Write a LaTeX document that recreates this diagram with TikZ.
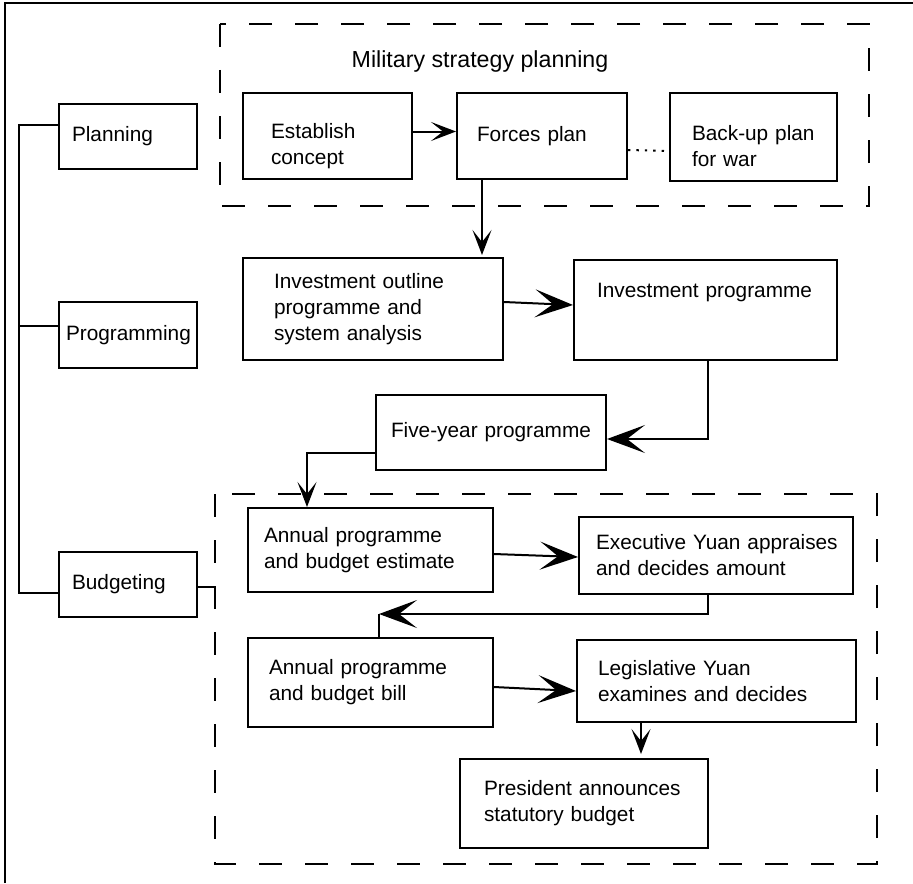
\documentclass[tikz,border=0pt]{standalone}
\usepackage{fontspec}
\setmainfont{Liberation Sans}
\usetikzlibrary{arrows.meta}
\hyphenpenalty=10000

\begin{document}
\begin{tikzpicture}[x=0.5pt, y=-0.5pt,
  box/.style={draw, line width=1pt, align=left, inner sep=0pt, font=\fontsize{10.4}{13}\selectfont},
  link/.style={line width=1pt},
  bigarrow/.style={link, -{Stealth[length=19pt, width=14pt, inset=9pt]}},
  smallarrow/.style={link, -{Stealth[length=12.5pt, width=9.5pt, inset=6pt]}},
  dashbox/.style={line width=1.4pt, dash pattern=on 11.5pt off 11.5pt}]
\useasboundingbox (0,0) rectangle (913,883);

% frame
\draw[line width=1pt] (5,883) -- (5,3) -- (913,3);

% dashed groups
\draw[dashbox] (220,24) rectangle (869,206);
\draw[dashbox] (215,494) rectangle (877,864);
\node[font=\fontsize{11.6}{14}\selectfont] (mtitle) at (480,62) {Military strategy planning};

% phases
\node[box, minimum width=69pt, minimum height=32.5pt, text width=56pt] (plan) at (128,136.5) {Planning};
\node[box, minimum width=69pt, minimum height=33pt, text width=62pt] (prog) at (128,335) {Programming};
\node[box, minimum width=69pt, minimum height=32.5pt, text width=56pt] (budg) at (128,584.5) {Budgeting};

% planning
\node[box, minimum width=84.5pt, minimum height=43pt, text width=56.5pt] (estab) at (327.5,136) {\rule{0pt}{18pt}Establish\\concept};
\node[box, minimum width=85pt, minimum height=43pt, text width=65pt] (forces) at (542,136) {Forces~plan};
\node[box, minimum width=83.5pt, minimum height=44pt, text width=61.5pt] (backup) at (753.5,137) {\rule{0pt}{17pt}Back-up~plan\\for~war};

% programming
\node[box, minimum width=130pt, minimum height=51pt, text width=99pt] (outline) at (373,309) {Investment~outline\\programme~and\\system~analysis};
\node[box, minimum width=131.5pt, minimum height=50pt, text width=108.5pt] (invprog) at (705.5,310) {Investment~programme\rule[-20pt]{0pt}{0pt}};
\node[box, minimum width=115pt, minimum height=37.5pt, text width=100pt] (five) at (491,432.5) {Five-year~programme};

% budgeting
\node[box, minimum width=122.5pt, minimum height=42pt, text width=106.5pt] (estim) at (370.5,550) {Annual~programme\\and~budget~estimate};
\node[box, minimum width=137pt, minimum height=38.5pt, text width=120pt] (exec) at (716,555.5) {Executive~Yuan~appraises\\and~decides~amount};
\node[box, minimum width=122.5pt, minimum height=44.5pt, text width=101.5pt] (bill) at (370.5,682.5) {Annual~programme\\and~budget~bill};
\node[box, minimum width=139.5pt, minimum height=41pt, text width=118.5pt] (legis) at (716.5,681) {Legislative~Yuan\\examines~and~decides};
\node[box, minimum width=124pt, minimum height=44.5pt, text width=100pt] (pres) at (584,803.5) {President~announces\\statutory~budget};

% left spine
\draw[link] ([yshift=5.75pt]plan.west) -| (19,593) -- ([yshift=-4.25pt]budg.west);
\draw[link] ([yshift=4.5pt]prog.west) -- ++(-40,0);
\draw[link] ([yshift=-1.25pt]budg.east) -- ++(18,0);

% flow
\draw[smallarrow] ([yshift=2.25pt]estab.east) -- ([yshift=2.25pt]forces.west);
\draw[link, dash pattern=on 1.2pt off 3pt] ([yshift=-7pt]forces.east) -- ([yshift=-7pt]backup.west);
\draw[smallarrow] ([xshift=-30pt]forces.south) -- ([xshift=-30pt, yshift=1pt]forces.south |- outline.north);
\draw[bigarrow] ([yshift=3.5pt]outline.east) -- ([yshift=2.5pt]invprog.west);
\draw[bigarrow] ([xshift=1.25pt]invprog.south) |- ([yshift=-3.25pt]five.east);
\draw[smallarrow] ([yshift=-10.25pt]five.west) -| ([xshift=-31.75pt]estim.north);
\draw[bigarrow] ([yshift=-2pt]estim.east) -- ([yshift=-0.75pt]exec.west);
\draw[bigarrow] ([xshift=-4pt]exec.south) |- ([xshift=4.25pt, yshift=11.5pt]bill.north);
\draw[link] ([xshift=4.25pt, yshift=11.5pt]bill.north) -- ([xshift=4.25pt]bill.north);
\draw[bigarrow] ([yshift=-2.25pt]bill.east) -- ([yshift=-5pt]legis.west);
\draw[smallarrow] ([xshift=-37.75pt]legis.south) -- ([xshift=-37.75pt, yshift=2pt]legis.south |- pres.north);
\end{tikzpicture}
\end{document}
